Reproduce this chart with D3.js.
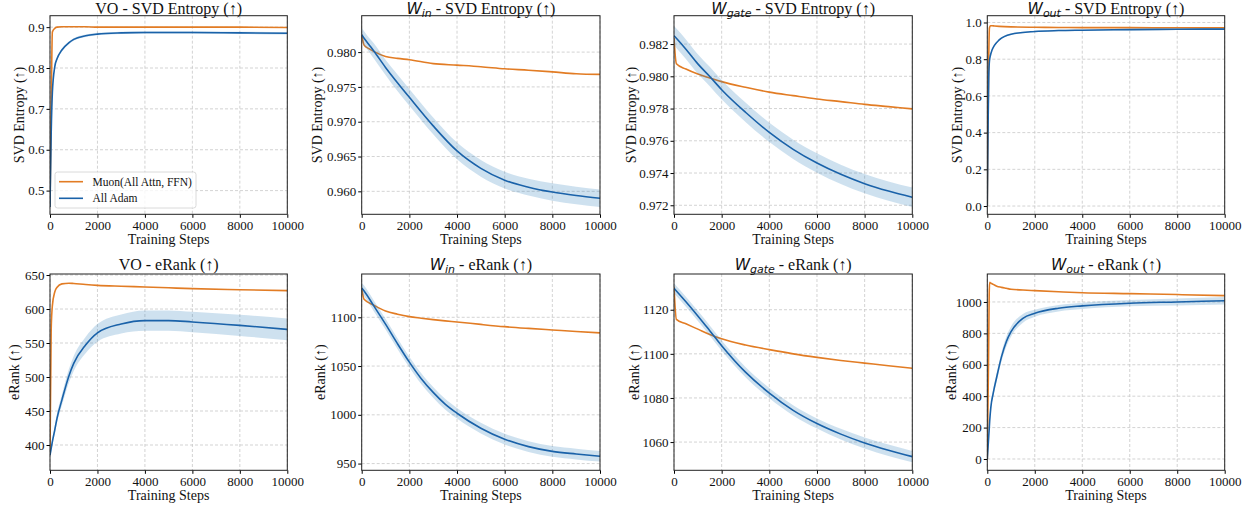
<!DOCTYPE html>
<html><head><meta charset="utf-8">
<script src="https://cdn.jsdelivr.net/npm/d3@7"></script>
<style>body{margin:0;background:#fff}svg{display:block;background:#fff}</style>
</head><body><svg id="chart" width="1255" height="510"></svg>
<script>
const seriesNames = ["Muon(All Attn, FFN)", "All Adam"];
const xTicks = [0, 2000, 4000, 6000, 8000, 10000];

// VO - SVD Entropy
const voEntSteps = [0, 50, 100, 200, 300, 500, 800, 1000, 1500, 2000, 3000, 4000, 6000, 8000, 10000];
const voEntMuon  = [0.46, 0.70, 0.888, 0.897, 0.900, 0.901, 0.901, 0.901, 0.901, 0.900, 0.900, 0.900, 0.900, 0.900, 0.899];
const voEntAdam  = [0.46, 0.64, 0.74, 0.803, 0.823, 0.844, 0.862, 0.870, 0.879, 0.883, 0.886, 0.887, 0.887, 0.886, 0.885];
const voEntSd    = [0.002, 0.004, 0.004, 0.004, 0.004, 0.004, 0.003, 0.003, 0.003, 0.003, 0.003, 0.003, 0.003, 0.003, 0.003];
const voEntTicks = [0.5, 0.6, 0.7, 0.8, 0.9];

// W_in - SVD Entropy
const winEntSteps = [0, 100, 300, 500, 1000, 1500, 2000, 3000, 4000, 5000, 6000, 7000, 8000, 9000, 10000];
const winEntMuon  = [0.9825, 0.9810, 0.9805, 0.9801, 0.97938, 0.9791, 0.9789, 0.97835, 0.97813, 0.9779, 0.9776, 0.9774, 0.97716, 0.9769, 0.9768];
const winEntAdam  = [0.9825, 0.9820, 0.9811, 0.9802, 0.9778, 0.9756, 0.9735, 0.9694, 0.9658, 0.9633, 0.9616, 0.9606, 0.9599, 0.9594, 0.9590];
const winEntSd    = [0.001, 0.001, 0.001, 0.0011, 0.0011, 0.0012, 0.0012, 0.0012, 0.0012, 0.0012, 0.0012, 0.0012, 0.00125, 0.00125, 0.00125];
const winEntTicks = [0.960, 0.965, 0.970, 0.975, 0.980];

// W_gate - SVD Entropy
const wgEntSteps = [0, 100, 500, 1000, 1500, 2000, 3000, 4000, 5000, 6000, 7000, 8000, 9000, 10000];
const wgEntMuon  = [0.98237, 0.98078, 0.98045, 0.98014, 0.9799, 0.97967, 0.97932, 0.97902, 0.9788, 0.97859, 0.97843, 0.97826, 0.97812, 0.97798];
const wgEntAdam  = [0.98252, 0.98236, 0.98168, 0.98077, 0.97999, 0.97917, 0.97777, 0.97652, 0.97547, 0.97462, 0.97392, 0.97334, 0.97288, 0.97250];
const wgEntSd    = [0.0006, 0.0006, 0.0006, 0.0006, 0.0006, 0.0006, 0.0006, 0.0006, 0.0006, 0.0006, 0.0006, 0.0006, 0.0006, 0.0006];
const wgEntTicks = [0.972, 0.974, 0.976, 0.978, 0.980, 0.982];

// W_out - SVD Entropy
const woEntSteps = [0, 30, 60, 90, 130, 200, 300, 500, 1000, 2000, 3000, 4000, 6000, 8000, 10000];
const woEntMuon  = [0.0, 0.45, 0.80, 0.97, 0.982, 0.982, 0.981, 0.979, 0.976, 0.974, 0.973, 0.972, 0.972, 0.971, 0.971];
const woEntAdam  = [0.0, 0.40, 0.70, 0.79, 0.82, 0.85, 0.875, 0.905, 0.936, 0.951, 0.956, 0.958, 0.961, 0.963, 0.964];
const woEntSd    = [0.0, 0.004, 0.004, 0.004, 0.004, 0.004, 0.004, 0.004, 0.004, 0.004, 0.004, 0.004, 0.004, 0.004, 0.004];
const woEntTicks = [0.0, 0.2, 0.4, 0.6, 0.8, 1.0];

// VO - eRank
const voRkSteps = [0, 50, 100, 200, 300, 500, 800, 1000, 1500, 2000, 3000, 4000, 5000, 6000, 8000, 10000];
const voRkMuon  = [390, 570, 605, 625, 632, 637, 638, 637.5, 636, 634.8, 633.5, 632.4, 631.2, 630, 628.4, 627];
const voRkAdam  = [385, 395, 405, 422, 440, 466, 502, 520, 547, 565, 578, 583, 583, 581, 576, 570];
const voRkSd    = [3, 4, 5, 6, 7, 8, 10, 11, 12, 13, 14, 15, 15, 15, 15.5, 16];
const voRkTicks = [400, 450, 500, 550, 600, 650];

// W_in - eRank
const winRkSteps = [0, 100, 500, 1000, 1500, 2000, 2500, 3000, 3500, 4000, 5000, 6000, 7000, 8000, 9000, 10000];
const winRkMuon  = [1129.7, 1118.4, 1112.6, 1106.5, 1103.2, 1100.7, 1099.1, 1097.6, 1096.3, 1095.2, 1092.7, 1090.4, 1088.6, 1087, 1085.4, 1084];
const winRkAdam  = [1130, 1127, 1112, 1093, 1073, 1054, 1037, 1023, 1011, 1001.6, 986.3, 975, 967.4, 962.5, 959.8, 957.5];
const winRkSd    = [5.5, 5.5, 5.5, 5.5, 5.5, 5.5, 5.5, 5.5, 5.5, 5.5, 5.5, 5.5, 5.5, 5.5, 5.5, 5.5];
const winRkTicks = [950, 1000, 1050, 1100];

// W_gate - eRank
const wgRkSteps = [0, 100, 500, 1000, 1500, 2000, 3000, 4000, 5000, 6000, 7000, 8000, 9000, 10000];
const wgRkMuon  = [1130.4, 1115.6, 1113.6, 1111.2, 1108.8, 1106.8, 1104, 1101.9, 1100, 1098.4, 1097, 1095.8, 1094.6, 1093.5];
const wgRkAdam  = [1129.7, 1128.5, 1123.6, 1117.2, 1110.5, 1103.7, 1091.7, 1082.2, 1074.4, 1068.4, 1063.6, 1059.6, 1056.3, 1053.4];
const wgRkSd    = [2.3, 2.3, 2.3, 2.3, 2.3, 2.3, 2.3, 2.3, 2.3, 2.3, 2.4, 2.5, 2.6, 2.6];
const wgRkTicks = [1060, 1080, 1100, 1120];

// W_out - eRank
const woRkSteps = [0, 50, 80, 100, 150, 250, 400, 600, 800, 1000, 1500, 2000, 3000, 4000, 6000, 8000, 10000];
const woRkMuon  = [0, 600, 1050, 1125, 1120, 1112, 1100, 1093, 1087, 1081, 1076, 1072, 1065, 1059, 1053, 1047, 1040];
const woRkAdam  = [0, 120, 190, 240, 330, 420, 524, 652, 747, 811, 896, 928, 960, 975, 992, 1000, 1008];
const woRkSd    = [0, 10, 15, 18, 20, 24, 28, 30, 32, 32, 28, 22, 20, 20, 20, 22, 24];
const woRkTicks = [0, 200, 400, 600, 800, 1000];

const ORANGE = "#e27c24", BLUE = "#1a62a9", BAND = "#1f77b4";
const SERIF = "'Liberation Serif','Times New Roman',serif";

const panels = [
  {name:"VO", sub:null, metric:"SVD Entropy", ylab:"SVD Entropy (↑)", steps:voEntSteps, muon:voEntMuon, adam:voEntAdam, sd:voEntSd, ticks:voEntTicks, dom:[0.442,0.928], fmt:".1f", col:0, row:0, labX:19, legend:true},
  {name:"W", sub:"in", metric:"SVD Entropy", ylab:"SVD Entropy (↑)", steps:winEntSteps, muon:winEntMuon, adam:winEntAdam, sd:winEntSd, ticks:winEntTicks, dom:[0.9567,0.98523], fmt:".3f", col:1, row:0, labX:317},
  {name:"W", sub:"gate", metric:"SVD Entropy", ylab:"SVD Entropy (↑)", steps:wgEntSteps, muon:wgEntMuon, adam:wgEntAdam, sd:wgEntSd, ticks:wgEntTicks, dom:[0.97144,0.98376], fmt:".3f", col:2, row:0, labX:631.5},
  {name:"W", sub:"out", metric:"SVD Entropy", ylab:"SVD Entropy (↑)", steps:woEntSteps, muon:woEntMuon, adam:woEntAdam, sd:woEntSd, ticks:woEntTicks, dom:[-0.045,1.037], fmt:".1f", col:3, row:0, labX:957.5},
  {name:"VO", sub:null, metric:"eRank", ylab:"eRank (↑)", steps:voRkSteps, muon:voRkMuon, adam:voRkAdam, sd:voRkSd, ticks:voRkTicks, dom:[362.8,651.5], fmt:"d", col:0, row:1, labX:14.5},
  {name:"W", sub:"in", metric:"eRank", ylab:"eRank (↑)", steps:winRkSteps, muon:winRkMuon, adam:winRkAdam, sd:winRkSd, ticks:winRkTicks, dom:[943.1,1144.4], fmt:"d", col:1, row:1, labX:320.5},
  {name:"W", sub:"gate", metric:"eRank", ylab:"eRank (↑)", steps:wgRkSteps, muon:wgRkMuon, adam:wgRkAdam, sd:wgRkSd, ticks:wgRkTicks, dom:[1047.2,1136.2], fmt:"d", col:2, row:1, labX:634.5},
  {name:"W", sub:"out", metric:"eRank", ylab:"eRank (↑)", steps:woRkSteps, muon:woRkMuon, adam:woRkAdam, sd:woRkSd, ticks:woRkTicks, dom:[-72,1178], fmt:"d", col:3, row:1, labX:951}
];

const colX = [[50,287.3],[361.7,600],[674,912.3],[987.3,1224.7]];
const rowY = [[15.7,214.3],[274,470.3]];
const titleBase = [14.3, 270];

const svg = d3.select("#chart");
const defs = svg.append("defs");

panels.forEach((p, i) => {
  const [x0, x1] = colX[p.col], [y0, y1] = rowY[p.row];
  const x = d3.scaleLinear().domain([0, 10000]).range([x0, x1]);
  const y = d3.scaleLinear().domain(p.dom).range([y1, y0]);
  const g = svg.append("g");
  const cid = "clip" + i;
  defs.append("clipPath").attr("id", cid).append("rect")
    .attr("x", x0).attr("y", y0).attr("width", x1 - x0).attr("height", y1 - y0);

  // grid
  g.append("g").selectAll("line").data(xTicks).join("line")
    .attr("x1", d => x(d)).attr("x2", d => x(d)).attr("y1", y0).attr("y2", y1)
    .attr("stroke", "#c8c8c8").attr("stroke-width", 0.8).attr("stroke-dasharray", "3,2");
  g.append("g").selectAll("line").data(p.ticks).join("line")
    .attr("x1", x0).attr("x2", x1).attr("y1", d => y(d)).attr("y2", d => y(d))
    .attr("stroke", "#c8c8c8").attr("stroke-width", 0.8).attr("stroke-dasharray", "3,2");

  const pts = p.steps.map((s, j) => ({s, m: p.muon[j], a: p.adam[j], sd: p.sd[j]}));
  const lineM = d3.line().x(d => x(d.s)).y(d => y(d.m)).curve(d3.curveMonotoneX);
  const lineA = d3.line().x(d => x(d.s)).y(d => y(d.a)).curve(d3.curveMonotoneX);
  const area = d3.area().x(d => x(d.s)).y0(d => y(d.a - d.sd)).y1(d => y(d.a + d.sd)).curve(d3.curveMonotoneX);

  const plot = g.append("g").attr("clip-path", `url(#${cid})`);
  plot.append("path").attr("d", lineM(pts)).attr("fill", "none").attr("stroke", ORANGE).attr("stroke-width", 1.6);
  plot.append("path").attr("d", area(pts)).attr("fill", BAND).attr("fill-opacity", 0.22);
  plot.append("path").attr("d", lineA(pts)).attr("fill", "none").attr("stroke", BLUE).attr("stroke-width", 1.6);

  // axes
  const xa = g.append("g").attr("transform", `translate(0,${y1})`)
    .call(d3.axisBottom(x).tickValues(xTicks).tickFormat(d3.format("d")).tickSize(3.5).tickPadding(3).tickSizeOuter(0));
  const ya = g.append("g").attr("transform", `translate(${x0},0)`)
    .call(d3.axisLeft(y).tickValues(p.ticks).tickFormat(d3.format(p.fmt)).tickSize(3.5).tickPadding(2).tickSizeOuter(0));
  [xa, ya].forEach(a => {
    a.select(".domain").remove();
    a.attr("font-family", SERIF).attr("font-size", 13);
    a.selectAll("text").attr("fill", "#111");
  });

  // frame
  g.append("rect").attr("x", x0).attr("y", y0).attr("width", x1 - x0).attr("height", y1 - y0)
    .attr("fill", "none").attr("stroke", "#222").attr("stroke-width", 1);

  // title
  const t = g.append("text").attr("x", (x0 + x1) / 2).attr("y", titleBase[p.row])
    .attr("text-anchor", "middle").attr("font-family", SERIF).attr("font-size", 16).attr("fill", "#111");
  if (p.sub) {
    t.append("tspan").text("W").attr("font-family", "'DejaVu Sans',sans-serif").attr("font-style", "italic").attr("font-size", 15.5);
    t.append("tspan").text(p.sub).attr("font-family", "'DejaVu Sans',sans-serif").attr("font-style", "italic")
      .attr("font-size", 11).attr("dy", 3);
    t.append("tspan").text(" - " + p.metric + " (↑)").attr("dy", -3);
  } else {
    t.text(p.name + " - " + p.metric + " (↑)");
  }

  // axis labels
  g.append("text").attr("x", (x0 + x1) / 2).attr("y", y1 + 30).attr("text-anchor", "middle")
    .attr("font-family", SERIF).attr("font-size", 14).attr("fill", "#111").text("Training Steps");
  g.append("text").attr("transform", `translate(${p.labX},${(y0 + y1) / 2}) rotate(-90)`)
    .attr("text-anchor", "middle").attr("dominant-baseline", "central")
    .attr("font-family", SERIF).attr("font-size", 14).attr("fill", "#111").text(p.ylab);

  if (p.legend) {
    const lg = g.append("g");
    const lx = x0 + 5, ly = 172;
    lg.append("rect").attr("x", lx).attr("y", ly).attr("width", 141).attr("height", 36).attr("rx", 2.5)
      .attr("fill", "#fff").attr("fill-opacity", 0.8).attr("stroke", "#d0d0d0").attr("stroke-width", 0.8);
    [ORANGE, BLUE].forEach((c, k) => {
      const yy = ly + 9.7 + k * 16.6;
      lg.append("line").attr("x1", lx + 4).attr("x2", lx + 28).attr("y1", yy).attr("y2", yy)
        .attr("stroke", c).attr("stroke-width", 1.6);
      lg.append("text").attr("x", lx + 37.5).attr("y", yy).attr("dominant-baseline", "central")
        .attr("font-family", SERIF).attr("font-size", 11.5).attr("fill", "#111").text(seriesNames[k]);
    });
  }
});
</script></body></html>
